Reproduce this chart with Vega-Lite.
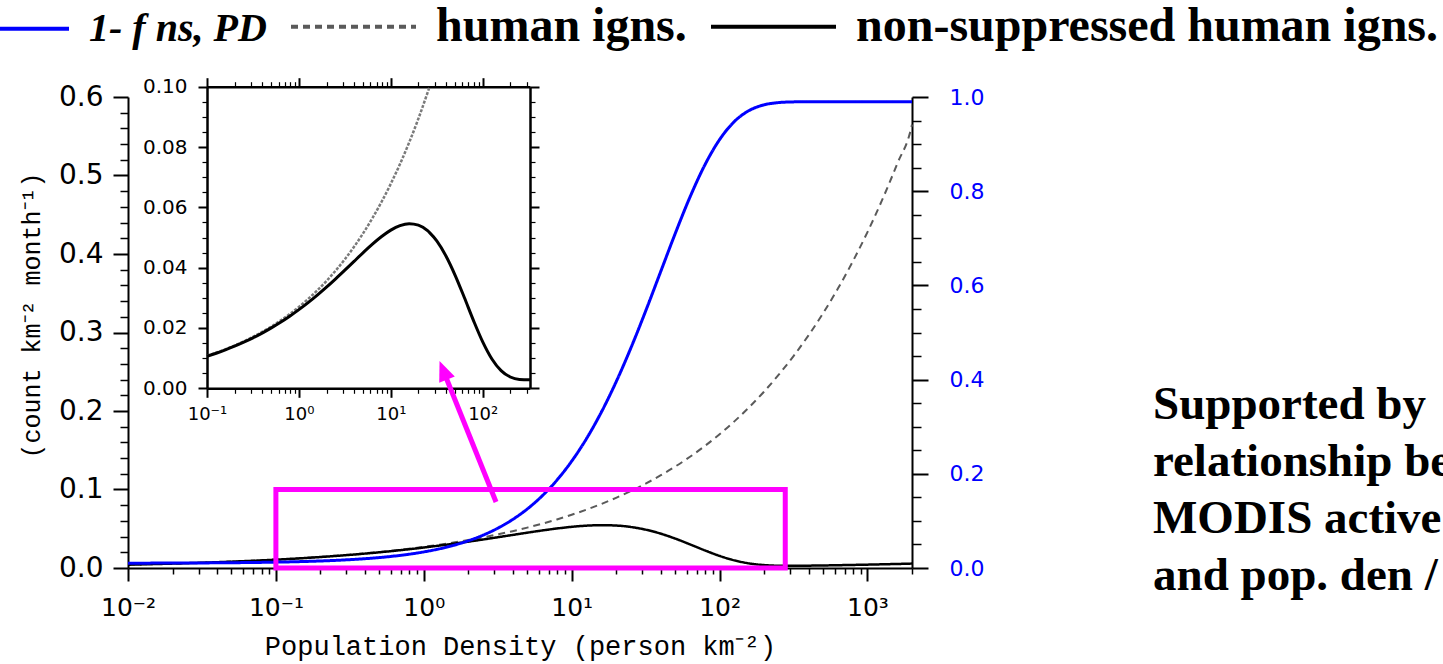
{
  "$schema": "https://vega.github.io/schema/vega-lite/v6.json",
  "autosize": {"type": "none"},
  "padding": {"left": 128, "top": 97, "right": 531, "bottom": 96},
  "width": 784,
  "height": 471,
  "background": "white",
  "config": {
    "view": {"stroke": null},
    "axis": {"grid": false, "domainColor": "black", "tickColor": "black", "labelColor": "black", "titleColor": "black", "domainWidth": 2, "labelFont": "DejaVu Sans", "titleFont": "Liberation Mono", "titleFontWeight": "normal"}
  },
  "title": {
    "text": ["Supported by", "relationship be", "MODIS active", "and pop. den /"],
    "orient": "bottom", "anchor": "end", "frame": "group", "align": "left", "baseline": "alphabetic",
    "font": "Liberation Serif", "fontSize": 47, "fontWeight": "bold", "lineHeight": 57, "color": "black", "offset": 0, "dx": 241, "dy": -240
  },
  "data": {"values": [
    {"pd": 0.01, "f": 0.01024, "h": 0.004279, "n": 0.004235},
    {"pd": 0.012589, "f": 0.01031, "h": 0.004692, "n": 0.004644},
    {"pd": 0.015849, "f": 0.01039, "h": 0.005145, "n": 0.005092},
    {"pd": 0.019953, "f": 0.01049, "h": 0.005641, "n": 0.005582},
    {"pd": 0.025119, "f": 0.01062, "h": 0.006185, "n": 0.006119},
    {"pd": 0.031623, "f": 0.01078, "h": 0.006782, "n": 0.006709},
    {"pd": 0.039811, "f": 0.01098, "h": 0.007436, "n": 0.007354},
    {"pd": 0.050119, "f": 0.01123, "h": 0.008154, "n": 0.008062},
    {"pd": 0.063096, "f": 0.01154, "h": 0.008941, "n": 0.008838},
    {"pd": 0.079433, "f": 0.01194, "h": 0.009803, "n": 0.009686},
    {"pd": 0.1, "f": 0.01245, "h": 0.010749, "n": 0.010615},
    {"pd": 0.12589, "f": 0.01308, "h": 0.011786, "n": 0.011632},
    {"pd": 0.15849, "f": 0.01388, "h": 0.012923, "n": 0.012744},
    {"pd": 0.19953, "f": 0.01488, "h": 0.01417, "n": 0.013959},
    {"pd": 0.25119, "f": 0.01613, "h": 0.015537, "n": 0.015286},
    {"pd": 0.31623, "f": 0.01772, "h": 0.017036, "n": 0.016734},
    {"pd": 0.39811, "f": 0.01971, "h": 0.018679, "n": 0.018311},
    {"pd": 0.50119, "f": 0.0222, "h": 0.020482, "n": 0.020027},
    {"pd": 0.63096, "f": 0.02534, "h": 0.022458, "n": 0.021889},
    {"pd": 0.79433, "f": 0.02927, "h": 0.024624, "n": 0.023903},
    {"pd": 1, "f": 0.0342, "h": 0.027, "n": 0.026077},
    {"pd": 1.2589, "f": 0.04036, "h": 0.029605, "n": 0.02841},
    {"pd": 1.5849, "f": 0.04807, "h": 0.032461, "n": 0.030901},
    {"pd": 1.9953, "f": 0.05769, "h": 0.035593, "n": 0.03354},
    {"pd": 2.5119, "f": 0.06965, "h": 0.039027, "n": 0.036309},
    {"pd": 3.1623, "f": 0.08449, "h": 0.042792, "n": 0.039177},
    {"pd": 3.9811, "f": 0.10284, "h": 0.046921, "n": 0.042096},
    {"pd": 5.0119, "f": 0.12541, "h": 0.051447, "n": 0.044995},
    {"pd": 6.3096, "f": 0.15301, "h": 0.056411, "n": 0.04778},
    {"pd": 7.9433, "f": 0.18651, "h": 0.061853, "n": 0.050317},
    {"pd": 10, "f": 0.22678, "h": 0.067821, "n": 0.052441},
    {"pd": 12.589, "f": 0.27458, "h": 0.074364, "n": 0.053945},
    {"pd": 15.849, "f": 0.33056, "h": 0.081539, "n": 0.054586},
    {"pd": 19.953, "f": 0.39489, "h": 0.089405, "n": 0.0541},
    {"pd": 25.119, "f": 0.467, "h": 0.098031, "n": 0.052251},
    {"pd": 26.42, "f": 0.4837, "h": 0.1, "n": 0.05163},
    {"pd": 31.623, "f": 0.54548, "h": 0.107489, "n": 0.048856},
    {"pd": 39.811, "f": 0.62777, "h": 0.117859, "n": 0.043871},
    {"pd": 50.119, "f": 0.71005, "h": 0.12923, "n": 0.03747},
    {"pd": 63.096, "f": 0.78761, "h": 0.141698, "n": 0.030095},
    {"pd": 79.433, "f": 0.85549, "h": 0.155369, "n": 0.022452},
    {"pd": 100, "f": 0.90956, "h": 0.170358, "n": 0.015407},
    {"pd": 125.89, "f": 0.94789, "h": 0.186794, "n": 0.009734},
    {"pd": 158.49, "f": 0.97136, "h": 0.204816, "n": 0.005866},
    {"pd": 199.53, "f": 0.98332, "h": 0.224576, "n": 0.003746},
    {"pd": 251.19, "f": 0.98816, "h": 0.246243, "n": 0.002915},
    {"pd": 316.23, "f": 0.98964, "h": 0.27, "n": 0.002798},
    {"pd": 327, "f": 0.98972, "h": 0.2736, "n": 0.002812},
    {"pd": 398.11, "f": 0.98995, "h": 0.29605, "n": 0.002974},
    {"pd": 501.19, "f": 0.99, "h": 0.32461, "n": 0.003247},
    {"pd": 630.96, "f": 0.99, "h": 0.35593, "n": 0.003559},
    {"pd": 794.33, "f": 0.99, "h": 0.390269, "n": 0.003903},
    {"pd": 1000, "f": 0.99, "h": 0.427921, "n": 0.004279},
    {"pd": 1258.9, "f": 0.99, "h": 0.469206, "n": 0.004692},
    {"pd": 1584.9, "f": 0.99, "h": 0.514474, "n": 0.005145},
    {"pd": 1995.3, "f": 0.99, "h": 0.564111, "n": 0.005641},
    {"pd": 2000, "f": 0.99, "h": 0.565, "n": 0.00565}
  ]},
  "layer": [
    {
      "mark": {"type": "line", "strokeWidth": 2, "interpolate": "monotone"},
      "encoding": {
        "x": {"field": "pd", "type": "quantitative", "scale": {"type": "log", "domain": [0.01, 2000], "nice": false},
          "axis": {"orient": "bottom", "title": "Population Density (person km⁻²)", "titleFontSize": 27, "titlePadding": 13,
            "values": [0.01,0.02,0.03,0.04,0.05,0.06,0.07,0.08,0.09,0.1,0.2,0.3,0.4,0.5,0.6,0.7,0.8,0.9,1,2,3,4,5,6,7,8,9,10,20,30,40,50,60,70,80,90,100,200,300,400,500,600,700,800,900,1000,2000],
            "labelExpr": "datum.value === 0.01 ? '10⁻²' : datum.value === 0.1 ? '10⁻¹' : datum.value === 1 ? '10⁰' : datum.value === 10 ? '10¹' : datum.value === 100 ? '10²' : datum.value === 1000 ? '10³' : ''",
            "labelFontSize": 25, "labelPadding": 14, "labelFlush": false, "labelOverlap": false, "labelBound": false,
            "tickSize": {"condition": {"test": "indexof([0.01,0.1,1,10,100,1000], datum.value) >= 0", "value": 13}, "value": 6},
            "tickWidth": {"condition": {"test": "indexof([0.01,0.1,1,10,100,1000], datum.value) >= 0", "value": 2}, "value": 1.5}}},
        "y": {"field": "h", "type": "quantitative", "scale": {"domain": [0, 0.6], "nice": false},
          "axis": {"orient": "left", "title": "(count km⁻² month⁻¹)", "titleFontSize": 25, "titlePadding": 14, "titleY": 218,
            "values": [0,0.02,0.04,0.06,0.08,0.1,0.12,0.14,0.16,0.18,0.2,0.22,0.24,0.26,0.28,0.3,0.32,0.34,0.36,0.38,0.4,0.42,0.44,0.46,0.48,0.5,0.52,0.54,0.56,0.58,0.6],
            "labelExpr": "abs(datum.value*10 - round(datum.value*10)) < 0.001 ? format(datum.value, '.1f') : ''",
            "labelFontSize": 28, "labelPadding": 10, "labelOverlap": false, "labelFlush": false,
            "tickSize": {"condition": {"test": "abs(datum.value*10 - round(datum.value*10)) < 0.001", "value": 15}, "value": 8},
            "tickWidth": {"condition": {"test": "abs(datum.value*10 - round(datum.value*10)) < 0.001", "value": 2}, "value": 1.5}}},
        "color": {"datum": "human igns.", "type": "nominal",
          "scale": {"domain": ["1- f ns, PD", "human igns.", "non-suppressed human igns."], "range": ["#0000ff", "#5a5a5a", "#000000"]},
          "legend": {"orient": "none", "legendX": -186, "legendY": -135, "direction": "horizontal", "title": null,
            "symbolType": "stroke", "symbolSize": 15625, "symbolStrokeWidth": 4, "labelFont": "Liberation Serif", "labelFontSize": 48,
            "labelFontWeight": "bold", "labelColor": "black", "labelLimit": 2000, "labelOffset": 18, "columnPadding": 16,
            "encode": {"labels": {"update": {"fontStyle": {"signal": "datum.value === '1- f ns, PD' ? 'italic' : 'normal'"}, "fontSize": {"signal": "datum.value === '1- f ns, PD' ? 40 : 48"}}},
              "symbols": {"update": {"strokeDash": {"signal": "datum.value === 'human igns.' ? [3.5, 3.5] : [1, 0]"}, "stroke": {"signal": "datum.value === '1- f ns, PD' ? '#0000ff' : 'black'"}}}}}},
        "strokeDash": {"datum": "human igns.", "type": "nominal",
          "scale": {"domain": ["1- f ns, PD", "human igns.", "non-suppressed human igns."], "range": [[1, 0], [7, 5], [1, 0]]},
          "legend": {"orient": "none", "legendX": -186, "legendY": -135, "direction": "horizontal", "title": null,
            "symbolType": "stroke", "symbolSize": 15625, "symbolStrokeWidth": 4, "labelFont": "Liberation Serif", "labelFontSize": 48,
            "labelFontWeight": "bold", "labelColor": "black", "labelLimit": 2000, "labelOffset": 18, "columnPadding": 16,
            "encode": {"labels": {"update": {"fontStyle": {"signal": "datum.value === '1- f ns, PD' ? 'italic' : 'normal'"}, "fontSize": {"signal": "datum.value === '1- f ns, PD' ? 40 : 48"}}},
              "symbols": {"update": {"strokeDash": {"signal": "datum.value === 'human igns.' ? [3.5, 3.5] : [1, 0]"}, "stroke": {"signal": "datum.value === '1- f ns, PD' ? '#0000ff' : 'black'"}}}}}}
      }
    },
    {
      "mark": {"type": "line", "strokeWidth": 2.5, "interpolate": "monotone"},
      "encoding": {
        "x": {"field": "pd", "type": "quantitative", "scale": {"type": "log", "domain": [0.01, 2000], "nice": false}, "axis": null},
        "y": {"field": "n", "type": "quantitative", "scale": {"domain": [0, 0.6], "nice": false}, "axis": null},
        "color": {"datum": "non-suppressed human igns.", "type": "nominal"},
        "strokeDash": {"datum": "non-suppressed human igns.", "type": "nominal"}
      }
    },
    {
      "mark": {"type": "line", "strokeWidth": 3, "interpolate": "monotone"},
      "encoding": {
        "x": {"field": "pd", "type": "quantitative", "scale": {"type": "log", "domain": [0.01, 2000], "nice": false}, "axis": null},
        "y": {"field": "f", "type": "quantitative", "scale": {"domain": [0, 1], "nice": false},
          "axis": {"orient": "right", "title": null,
            "values": [0,0.05,0.1,0.15,0.2,0.25,0.3,0.35,0.4,0.45,0.5,0.55,0.6,0.65,0.7,0.75,0.8,0.85,0.9,0.95,1],
            "labelExpr": "abs(datum.value*5 - round(datum.value*5)) < 0.001 ? format(datum.value, '.1f') : ''",
            "labelFontSize": 22, "labelColor": "#0000ff", "labelPadding": 21, "labelOverlap": false, "labelFlush": false,
            "tickSize": {"condition": {"test": "abs(datum.value*5 - round(datum.value*5)) < 0.001", "value": 16}, "value": 9},
            "tickWidth": {"condition": {"test": "abs(datum.value*5 - round(datum.value*5)) < 0.001", "value": 2}, "value": 1.5}}},
        "color": {"datum": "1- f ns, PD", "type": "nominal"},
        "strokeDash": {"datum": "1- f ns, PD", "type": "nominal"}
      }
    },
    {
      "data": {"values": [{"x1": 0.1, "x2": 278, "y1": 0, "y2": 0.1}]},
      "mark": {"type": "rect", "filled": false, "stroke": "#ff00ff", "strokeWidth": 5},
      "encoding": {
        "x": {"field": "x1", "type": "quantitative", "scale": {"type": "log", "domain": [0.01, 2000], "nice": false}, "axis": null},
        "x2": {"field": "x2"},
        "y": {"field": "y1", "type": "quantitative", "scale": {"domain": [0, 0.6], "nice": false}, "axis": null},
        "y2": {"field": "y2"}
      }
    },
    {
      "data": {"values": [{"x1": 3.08, "y1": 0.0841, "x2": 1.36, "y2": 0.2506}]},
      "mark": {"type": "rule", "stroke": "#ff00ff", "strokeWidth": 5},
      "encoding": {
        "x": {"field": "x1", "type": "quantitative", "scale": {"type": "log", "domain": [0.01, 2000], "nice": false}, "axis": null},
        "x2": {"field": "x2"},
        "y": {"field": "y1", "type": "quantitative", "scale": {"domain": [0, 0.6], "nice": false}, "axis": null},
        "y2": {"field": "y2"}
      }
    },
    {
      "data": {"values": [{"x": 1.363, "y": 0.2506}]},
      "mark": {"type": "point", "shape": "M0,-1L0.75,0.8L-0.75,0.8Z", "size": 500, "angle": -21.8, "filled": true, "color": "#ff00ff", "opacity": 1},
      "encoding": {
        "x": {"field": "x", "type": "quantitative", "scale": {"type": "log", "domain": [0.01, 2000], "nice": false}, "axis": null},
        "y": {"field": "y", "type": "quantitative", "scale": {"domain": [0, 0.6], "nice": false}, "axis": null}
      }
    },
    {
      "transform": [{"filter": "datum.pd >= 0.1 && datum.pd <= 327 && datum.h <= 0.1001"}],
      "mark": {"type": "line", "strokeWidth": 2.5, "color": "#7a7a7a", "strokeDash": [3, 1.5], "interpolate": "monotone"},
      "encoding": {
        "x": {"field": "pd", "type": "quantitative", "scale": {"type": "log", "domain": [0.1, 327], "range": [79, 402], "nice": false},
          "axis": {"orient": "bottom", "offset": -179.7, "title": null, "domainWidth": 2.5,
            "values": [0.1,0.2,0.3,0.4,0.5,0.6,0.7,0.8,0.9,1,2,3,4,5,6,7,8,9,10,20,30,40,50,60,70,80,90,100,200,300],
            "labelExpr": "datum.value === 0.1 ? '10⁻¹' : datum.value === 1 ? '10⁰' : datum.value === 10 ? '10¹' : datum.value === 100 ? '10²' : ''",
            "labelFontSize": 18, "labelPadding": 8, "labelFlush": false, "labelOverlap": false, "labelBound": false,
            "tickSize": {"condition": {"test": "indexof([0.1,1,10,100], datum.value) >= 0", "value": 9}, "value": 5},
            "tickWidth": {"condition": {"test": "indexof([0.1,1,10,100], datum.value) >= 0", "value": 2}, "value": 1.2}}},
        "y": {"field": "h", "type": "quantitative", "scale": {"domain": [0, 0.1], "range": [291.3, -10.3], "nice": false},
          "axis": {"orient": "left", "offset": -79, "title": null, "domainWidth": 2.5,
            "values": [0,0.005,0.01,0.015,0.02,0.025,0.03,0.035,0.04,0.045,0.05,0.055,0.06,0.065,0.07,0.075,0.08,0.085,0.09,0.095,0.1],
            "labelExpr": "abs(datum.value*50 - round(datum.value*50)) < 0.001 ? format(datum.value, '.2f') : ''",
            "labelFontSize": 20, "labelPadding": 11, "labelOverlap": false, "labelFlush": false,
            "tickSize": {"condition": {"test": "abs(datum.value*50 - round(datum.value*50)) < 0.001", "value": 9}, "value": 5},
            "tickWidth": {"condition": {"test": "abs(datum.value*50 - round(datum.value*50)) < 0.001", "value": 2}, "value": 1.2}}}
      }
    },
    {
      "transform": [{"filter": "datum.pd >= 0.1 && datum.pd <= 327"}],
      "mark": {"type": "line", "strokeWidth": 3, "color": "black", "interpolate": "monotone"},
      "encoding": {
        "x": {"field": "pd", "type": "quantitative", "scale": {"type": "log", "domain": [0.1, 327], "range": [79, 402], "nice": false}, "axis": null},
        "y": {"field": "n", "type": "quantitative", "scale": {"domain": [0, 0.1], "range": [291.3, -10.3], "nice": false}, "axis": null}
      }
    },
    {
      "transform": [{"filter": "datum.pd >= 0.1 && datum.pd <= 327"}],
      "mark": {"type": "line", "strokeOpacity": 0},
      "encoding": {
        "x": {"field": "pd", "type": "quantitative", "scale": {"type": "log", "domain": [0.1, 327], "range": [79, 402], "nice": false},
          "axis": {"orient": "top", "offset": 10.3, "title": null, "labels": false, "domainWidth": 2.5,
            "values": [0.1,0.2,0.3,0.4,0.5,0.6,0.7,0.8,0.9,1,2,3,4,5,6,7,8,9,10,20,30,40,50,60,70,80,90,100,200,300],
            "tickSize": {"condition": {"test": "indexof([0.1,1,10,100], datum.value) >= 0", "value": 9}, "value": 5},
            "tickWidth": {"condition": {"test": "indexof([0.1,1,10,100], datum.value) >= 0", "value": 2}, "value": 1.2}}},
        "y": {"field": "n", "type": "quantitative", "scale": {"domain": [0, 0.1], "range": [291.3, -10.3], "nice": false},
          "axis": {"orient": "right", "offset": -382, "title": null, "labels": false, "domainWidth": 2.5,
            "values": [0,0.005,0.01,0.015,0.02,0.025,0.03,0.035,0.04,0.045,0.05,0.055,0.06,0.065,0.07,0.075,0.08,0.085,0.09,0.095,0.1],
            "tickSize": {"condition": {"test": "abs(datum.value*50 - round(datum.value*50)) < 0.001", "value": 9}, "value": 5},
            "tickWidth": {"condition": {"test": "abs(datum.value*50 - round(datum.value*50)) < 0.001", "value": 2}, "value": 1.2}}}
      }
    }
  ],
  "resolve": {"scale": {"x": "independent", "y": "independent"}, "axis": {"x": "independent", "y": "independent"}}
}
